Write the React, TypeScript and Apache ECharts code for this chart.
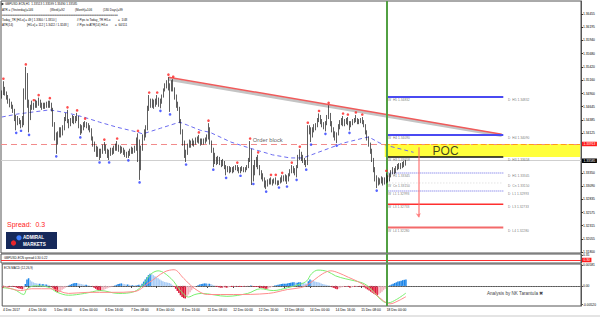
import React, { useEffect, useRef } from "react";
import * as echarts from "echarts";

const FONT = "'Liberation Sans', Arial, sans-serif";

// ---------- time axis ----------
const TIME_LABELS = [
  "4 Dec 2017", "4 Dec 16:00", "5 Dec 08:00", "6 Dec 00:00", "6 Dec 16:00", "7 Dec 08:00",
  "8 Dec 00:00", "8 Dec 16:00", "11 Dec 08:00", "12 Dec 00:00", "12 Dec 16:00", "13 Dec 08:00",
  "14 Dec 00:00", "14 Dec 16:00", "15 Dec 08:00", "18 Dec 00:00",
];
const BARS_PER_LABEL = 16;
const SLOT_COUNT = 362;
const NOW_INDEX = 240;

// ---------- prices (pips above 1.3000, H1 bars) ----------
const PRICE_BASE = 1.3;
const FIRST_OPEN_PIPS = 484;
const CLOSE_PIPS = [
  488, 500, 492, 484, 478, 470, 466, 458, 446, 432, 440, 436, 428, 430, 480, 525,
  470, 440, 462, 470, 466, 472, 470, 474, 468, 464, 468, 466, 470, 468, 470, 460,
  430, 410, 392, 410, 418, 412, 420, 440, 448, 436, 430, 438, 444, 436, 440, 444,
  428, 418, 422, 430, 432, 428, 426, 420, 404, 392, 384, 372, 380, 368, 376, 384,
  388, 378, 370, 374, 380, 376, 384, 388, 382, 386, 378, 382, 376, 372, 368, 372,
  376, 380, 378, 382, 390, 398, 350, 380, 404, 412, 420, 460, 476, 468, 474, 466,
  472, 480, 470, 474, 484, 496, 504, 512, 500, 506, 512, 500, 484, 470, 462, 440,
  418, 396, 376, 372, 386, 394, 390, 396, 392, 398, 402, 398, 394, 398, 396, 400,
  404, 420, 396, 380, 368, 362, 358, 362, 356, 352, 356, 348, 340, 344, 340, 342,
  340, 344, 346, 342, 338, 342, 344, 340, 342, 346, 360, 380, 340, 334, 350, 358,
  346, 336, 330, 322, 314, 312, 318, 320, 318, 316, 320, 318, 314, 316, 322, 320,
  324, 326, 320, 330, 338, 344, 340, 336, 346, 364, 372, 366, 360, 356, 352, 416,
  420, 410, 418, 424, 428, 438, 446, 436, 430, 426, 432, 444, 450, 432, 420, 412,
  404, 410, 424, 434, 436, 430, 434, 438, 432, 428, 432, 436, 438, 440, 434, 436,
  438, 436, 428, 416, 404, 392, 380, 362, 344, 326, 316, 320, 318, 322, 316, 320,
  326, 322, 330, 336, 340, 338, 344, 348, 350, 346, 352, 351.3, 358.5,
];
const HIGH_PIPS = [
  496, 514, 503, 494, 487, 480, 474, 468, 460, 448, 446, 442, 438, 446, 500, 542,
  530, 478, 468, 476, 472, 478, 476, 482, 478, 472, 472, 472, 474, 476, 476, 472,
  462, 434, 414, 416, 424, 424, 428, 444, 452, 458, 440, 442, 448, 446, 446, 452,
  446, 430, 428, 434, 436, 434, 432, 428, 422, 406, 396, 388, 386, 382, 382, 390,
  395, 390, 382, 380, 384, 384, 388, 392, 397, 390, 388, 386, 384, 380, 376, 378,
  382, 386, 384, 388, 404, 412, 400, 388, 410, 420, 428, 466, 487, 480, 480, 478,
  480, 487, 482, 480, 488, 500, 510, 516, 522, 510, 516, 518, 502, 488, 474, 464,
  440, 420, 398, 380, 392, 400, 398, 402, 398, 404, 406, 409, 402, 402, 402, 404,
  410, 432, 424, 398, 384, 374, 366, 368, 366, 360, 362, 358, 350, 348, 348, 346,
  346, 348, 350, 350, 346, 346, 348, 346, 346, 350, 364, 397, 382, 350, 360, 366,
  370, 350, 340, 334, 326, 320, 322, 324, 326, 322, 324, 326, 320, 320, 326, 330,
  330, 332, 330, 334, 342, 350, 348, 344, 350, 370, 381, 376, 370, 364, 360, 428,
  428, 424, 424, 430, 432, 442, 451, 448, 440, 434, 436, 448, 467, 452, 436, 424,
  416, 414, 430, 438, 442, 446, 440, 442, 444, 436, 436, 440, 442, 448, 442, 440,
  442, 444, 438, 430, 418, 406, 394, 382, 364, 346, 330, 326, 324, 328, 326, 326,
  334, 330, 334, 340, 346, 344, 348, 352, 354, 354, 356, 358, 359.9,
];
const LOW_PIPS = [
  480, 487, 486, 478, 470, 463, 460, 452, 436, 418, 428, 430, 422, 424, 428, 478,
  462, 414, 438, 458, 458, 462, 462, 466, 462, 458, 460, 460, 462, 462, 462, 455,
  425, 398, 372, 390, 404, 404, 408, 418, 436, 432, 422, 426, 432, 430, 432, 436,
  422, 409, 412, 418, 424, 422, 418, 414, 398, 386, 376, 366, 366, 360, 364, 372,
  378, 372, 364, 360, 368, 370, 372, 378, 378, 376, 372, 374, 370, 366, 364, 364,
  368, 372, 372, 374, 378, 356, 321, 340, 378, 398, 404, 418, 456, 462, 462, 460,
  464, 468, 464, 461, 470, 482, 494, 500, 496, 454, 494, 494, 478, 462, 456, 432,
  410, 388, 364, 356, 370, 384, 384, 388, 386, 390, 394, 392, 388, 390, 390, 392,
  396, 400, 390, 374, 346, 352, 350, 352, 350, 346, 348, 342, 330, 336, 334, 336,
  334, 336, 340, 338, 334, 334, 338, 336, 336, 340, 344, 356, 311, 318, 330, 346,
  342, 330, 322, 318, 306, 303, 308, 312, 312, 310, 314, 312, 310, 311, 314, 316,
  318, 318, 313, 318, 328, 334, 334, 330, 326, 344, 360, 358, 354, 350, 346, 350,
  410, 395, 404, 414, 418, 424, 434, 430, 424, 420, 416, 428, 440, 426, 414, 404,
  398, 393, 408, 420, 428, 426, 426, 430, 428, 418, 424, 428, 432, 434, 430, 430,
  432, 430, 424, 410, 398, 386, 372, 356, 336, 318, 305, 310, 312, 314, 310, 312,
  314, 316, 318, 326, 332, 332, 334, 340, 342, 342, 344, 346, 349,
];
const FRACTAL_UP = [1, 15, 20, 23, 30, 41, 47, 52, 64, 72, 85, 92, 97, 104, 107, 123, 129, 147, 155, 160, 168, 171, 175, 181, 186, 191, 198, 204, 213, 216, 221, 225, 240];
const FRACTAL_DOWN = [9, 12, 17, 34, 49, 61, 67, 79, 86, 99, 105, 115, 132, 140, 149, 157, 165, 173, 178, 184, 190, 193, 202, 209, 217, 234];

// moving average (bar index, pips)
const MA_POINTS = [
  [0, 444], [10, 450], [20, 454], [30, 458], [41, 452], [51, 444], [61, 434], [72, 424], [84, 415],
  [88, 411], [99, 422], [111, 434], [116, 428], [124, 418], [130, 414], [143, 395], [155, 383],
  [169, 370], [180, 364], [188, 364], [201, 379], [213, 393], [226, 403], [229, 405], [236, 393],
  [242, 387], [257, 375],
];
const TREND_POINTS = [[104, 522], [312, 410.3]];
const TREND_SHADOW_POINTS = [[104, 518], [312, 408]];

const PRICE_TICKS = [1.36455, 1.36195, 1.3594, 1.3568, 1.3542, 1.3516, 1.349, 1.34645, 1.34385, 1.34125, 1.3335, 1.3309, 1.32835, 1.32575, 1.32315, 1.32055, 1.318];
const Y_MIN = 1.317806;
const Y_MAX = 1.367093;
const BID_PRICE = 1.33585;
const ORDER_BLOCK_PRICE = 1.33913;
const POC_TOP = 1.33913;
const POC_BOTTOM = 1.33658;
const POC_START = 239;

const PIVOT_NAMES = ["H5", "H4", "H3", "H1", "Cn", "L1", "L3", "L4"];
const PIVOT_VALUES = [1.34832, 1.3409, 1.33658, 1.33345, 1.3315, 1.32993, 1.32733, 1.3228];
const PIVOT_START = 240;
const PIVOT_END = 313;
const PIVOT_D_LABEL = 316;

const ARROW_INDEX = 260;
const ARROW_FROM = 1.3385;
const ARROW_TO = 1.3248;

// ---------- MACD (units of 0.0001) ----------
const HIST_E4 = [
  -6, -5, -4, -3, -3, -2, -2, -3, -4, -6, -7, -8, -9, -8,
  5, 18, 21, 16, 12, 10, 8, 7, 6, 6, 5, 5, 4, 4, 3, 2,
  -2, -5, -10, -15, -18, -17, -14, -11, -8, -5, -2, 1,
  3, 5, 7, 8, 8, 7, 6,
  5, 4, 3, 3, 2, 1, 0,
  -2, -5, -8, -11, -13, -14, -13, -11,
  -9, -7, -5, -4, -2, -1,
  1, 3, 5, 6, 7, 6, 5, 4, 4, 3, 2,
  2, 1, 1, 2, 3,
  2, 6, 12, 18, 24, 30, 34, 33,
  30, 27, 24, 21, 18, 15, 13, 11, 10, 9, 8, 6,
  2, -3, -8, -14, -20, -26, -31, -34, -35,
  -30, -24, -18, -12, -7, -3,
  0, 2, 4, 5, 6, 7, 7, 6, 6, 5, 3, 1,
  -2, -3, -4, -5, -5, -4, -4, -5, -4, -3,
  -3, -3, -2, -2, -2, -3, -3, -2, -2, -1, -1, 0, 1, -1, -3,
  -3, -3, -4, -5, -6, -7, -8, -8, -7, -5, -3, -1, 1,
  2, 3, 4, 5, 6, 6, 6, 7, 8, 9, 10, 10, 9, 9, 10, 10,
  9, 8, 7, 6,
  13, 18,
  16, 14, 12, 11, 10, 9, 7, 5, 4, 3, 2, 1,
  -2, -4, -6, -8, -9,
  -7, -5, -4, -3, -3, -2,
  -3, -5,
  -4, -3, -3, -2, -2, -2, -2, -2,
  -4, -7, -10, -13, -16, -19, -22, -25, -27,
  -24, -20, -16, -12, -8, -4,
  -1, 2, 4, 6, 8, 10, 12, 13, 14, 16, 17, 18,
];
const MACD_MAIN_E4 = [
  [0, -5], [7, -10], [13, -24], [15, -8], [20, 0], [28, -3], [34, -18], [41, -26], [51, -21],
  [61, -13], [72, -21], [82, -16], [88, 5], [92, 31], [97, 42], [105, 21], [111, -13], [116, -31],
  [120, -24], [124, -21], [140, -29], [153, -21], [161, -8], [169, -13], [178, -5], [186, 5],
  [190, 14], [193, 34], [197, 44], [203, 40], [208, 28], [214, 20], [220, 14], [226, 6], [230, -8],
  [234, -28], [238, -44], [241, -47], [246, -38], [252, -20],
];
const MACD_SIGNAL_E4 = [
  [0, 0], [11, -13], [18, -8], [30, -8], [41, -21], [53, -18], [68, -18], [82, -16], [91, 8],
  [101, 39], [107, 45], [113, 21], [120, -8], [128, -24], [144, -24], [166, -21], [178, -10],
  [186, -5], [190, 2], [195, 18], [200, 34], [205, 42], [210, 36], [216, 24], [222, 12], [228, -4],
  [233, -22], [238, -42], [242, -50], [247, -42], [252, -30],
];
const MACD_TICKS = [0.00581, 0, -0.0052];
const MACD_MIN = -0.0056;
const MACD_MAX = 0.0061;

const SPREAD_NOW = 0.3;
const SPREAD_TICKS = [0.35];

const HEADER_LINES = [
  { text: "GBPUSD-ECN,H1  1.33513 1.33599 1.33490 1.33585", x: 5, y: 4 },
  { text: "ATR = (Yesterday)=146", x: 2, y: 10 },
  { text: "(Week)=92", x: 50, y: 10 },
  { text: "(Month)=106", x: 75, y: 10 },
  { text: "(180 Days)=99", x: 103, y: 10 },
  { text: "==================================================================", x: 2, y: 15 },
  { text: "Today_TR [H/Lo] = 49 [ 1.3360 / 1.3310 ]", x: 2, y: 20 },
  { text: "// Pips to Today_TR H/Lo", x: 77, y: 20 },
  { text: "=  1/48", x: 118, y: 20 },
  { text: "ATR(14)", x: 2, y: 25 },
  { text: "[H/Lo] = 112 [ 1.3422 / 1.3248 ]", x: 27, y: 25 },
  { text: "// Pips to ATR(14) H/Lo", x: 77, y: 25 },
  { text: "=  64/111", x: 115, y: 25 },
];

const toPrice = (p: number) => +(PRICE_BASE + p / 10000).toFixed(5);
const toMacd = (v: number) => v / 10000;

const PIVOT_STYLE: Record<string, any> = {
  H5: { color: "#4a4af2", width: 2, type: "solid" },
  H4: { color: "#4a4af2", width: 2, type: "solid" },
  H3: { color: "#111111", width: 1.5, type: "solid" },
  H1: { color: "#6767e6", width: 1, type: [1, 1] },
  Cn: { color: "#bdbdbd", width: 0.6, type: [1, 2] },
  L1: { color: "#6767e6", width: 1, type: [1, 1] },
  L3: { color: "#ff3030", width: 1.5, type: "solid" },
  L4: { color: "#f36a6a", width: 2, type: "solid" },
};

const nowLine = () => ({
  xAxis: NOW_INDEX,
  lineStyle: { color: "#52a043", width: 2, type: "solid" },
  label: { show: false },
});

const tag = (text: string, bg: string) => ({
  show: true,
  position: "end",
  distance: 1,
  formatter: text,
  backgroundColor: bg,
  color: "#fff",
  fontSize: 3.3,
  fontFamily: FONT,
  padding: [1, 1.5, 0.5, 1.5],
});

function buildOption() {
  const cats = Array.from({ length: SLOT_COUNT }, (_, i) =>
    i % BARS_PER_LABEL === 0 && i / BARS_PER_LABEL < TIME_LABELS.length ? TIME_LABELS[i / BARS_PER_LABEL] : ""
  );
  const candles = CLOSE_PIPS.map((c, i) => {
    const o = i === 0 ? FIRST_OPEN_PIPS : CLOSE_PIPS[i - 1];
    const h = Math.max(HIGH_PIPS[i], o, c);
    const l = Math.min(LOW_PIPS[i], o, c);
    return [toPrice(o), toPrice(c), toPrice(l), toPrice(h)];
  });
  const histData = HIST_E4.map((v, i) => {
    const prev = i === 0 ? v : HIST_E4[i - 1];
    let color;
    if (v >= 0) color = v >= prev ? "#1e86e8" : "#a9cdf6";
    else color = v <= prev ? "#dc1838" : "#f4b3be";
    return { value: [i, toMacd(v)], itemStyle: { color } };
  });

  const axisLabelBase = { fontSize: 3.3, color: "#000", fontFamily: FONT, margin: 2 };

  const pivotSeries = PIVOT_NAMES.map((name, k) => ({
    type: "line",
    xAxisIndex: 0,
    yAxisIndex: 0,
    symbol: "none",
    silent: true,
    z: 4,
    lineStyle: PIVOT_STYLE[name],
    data: [[PIVOT_START, PIVOT_VALUES[k]], [PIVOT_END, PIVOT_VALUES[k]]],
  }));
  const pivotLabelItems = (prefix: string, idx: number) =>
    PIVOT_NAMES.map((name, k) => ({
      value: [idx, PIVOT_VALUES[k]],
      label: { formatter: `${prefix}  ${name} ${PIVOT_VALUES[k].toFixed(5)}` },
    }));
  const textScatter = (data: any[], label: any) => ({
    type: "scatter",
    xAxisIndex: 0,
    yAxisIndex: 0,
    symbolSize: 0,
    silent: true,
    z: 6,
    data,
    label: { show: true, fontFamily: FONT, ...label },
  });

  return {
    animation: false,
    backgroundColor: "#ffffff",
    grid: [
      { left: 1, top: 1, width: 580, height: 252, show: true, borderColor: "#555", borderWidth: 1, backgroundColor: "#fff" },
      { left: 1, top: 254, width: 580, height: 9, show: true, borderColor: "#555", borderWidth: 1, backgroundColor: "#fff" },
      { left: 1, top: 264, width: 580, height: 42, show: true, borderColor: "#555", borderWidth: 1, backgroundColor: "#fff" },
    ],
    xAxis: [0, 1, 2].map((g) => ({
      type: "category",
      gridIndex: g,
      data: cats,
      show: g === 2,
      boundaryGap: true,
      axisLine: { show: true, lineStyle: { color: "#555", width: 1 } },
      axisTick: {
        show: true,
        alignWithLabel: true,
        length: 2,
        interval: (i: number, v: string) => v !== "",
        lineStyle: { color: "#333" },
      },
      axisLabel: {
        ...axisLabelBase,
        align: "left",
        interval: (i: number, v: string) => v !== "",
      },
      splitLine: { show: false },
    })),
    yAxis: [
      {
        type: "value",
        gridIndex: 0,
        position: "right",
        min: Y_MIN,
        max: Y_MAX,
        axisLine: { show: true, lineStyle: { color: "#555" } },
        axisTick: { show: true, length: 2, customValues: PRICE_TICKS, lineStyle: { color: "#333" } },
        axisLabel: { ...axisLabelBase, customValues: PRICE_TICKS, formatter: (v: number) => v.toFixed(5) },
        splitLine: { show: false },
      },
      {
        type: "value",
        gridIndex: 1,
        position: "right",
        min: 0.27,
        max: 0.36,
        axisLine: { show: true, lineStyle: { color: "#555" } },
        axisTick: { show: true, length: 2, customValues: SPREAD_TICKS },
        axisLabel: { ...axisLabelBase, customValues: SPREAD_TICKS, formatter: (v: number) => v.toFixed(2) },
        splitLine: { show: false },
      },
      {
        type: "value",
        gridIndex: 2,
        position: "right",
        min: MACD_MIN,
        max: MACD_MAX,
        axisLine: { show: true, lineStyle: { color: "#555" } },
        axisTick: { show: true, length: 2, customValues: MACD_TICKS },
        axisLabel: {
          ...axisLabelBase,
          customValues: MACD_TICKS,
          formatter: (v: number) => (v === 0 ? "0.00" : v.toFixed(5)),
        },
        splitLine: { show: false },
      },
    ],
    series: [
      // POC band
      {
        type: "line",
        xAxisIndex: 0,
        yAxisIndex: 0,
        data: [],
        silent: true,
        z: 1,
        markArea: {
          silent: true,
          itemStyle: { color: "#ffff3c", opacity: 1 },
          data: [[{ coord: [POC_START, POC_TOP] }, { coord: [SLOT_COUNT - 1, POC_BOTTOM] }]],
        },
      },
      // horizontal price lines
      {
        type: "line",
        xAxisIndex: 0,
        yAxisIndex: 0,
        data: [],
        silent: true,
        z: 2,
        markLine: {
          silent: true,
          symbol: "none",
          precision: 5,
          data: [
            {
              yAxis: BID_PRICE,
              lineStyle: { color: "#cfcfcf", type: "solid", width: 1 },
              label: tag(BID_PRICE.toFixed(5), "#000000"),
            },
            {
              yAxis: ORDER_BLOCK_PRICE,
              lineStyle: { color: "#f28b8b", type: [6, 4], width: 1.2 },
              label: tag(ORDER_BLOCK_PRICE.toFixed(5), "#ff1a1a"),
            },
            [
              { coord: [POC_START, POC_TOP], lineStyle: { color: "#ff9a1a", type: [5, 3], width: 1.2 }, label: { show: false } },
              { coord: [SLOT_COUNT - 1, POC_TOP] },
            ],
          ],
        },
      },
      {
        type: "line",
        xAxisIndex: 0,
        yAxisIndex: 0,
        data: MA_POINTS.map(([i, v]) => [i, toPrice(v)]),
        symbol: "none",
        silent: true,
        z: 3,
        lineStyle: { color: "#6c6cf0", width: 1, type: [4, 3] },
      },
      {
        type: "line",
        xAxisIndex: 0,
        yAxisIndex: 0,
        data: TREND_SHADOW_POINTS.map(([i, v]) => [i, toPrice(v)]),
        symbol: "none",
        silent: true,
        z: 3,
        lineStyle: { color: "#c4c4c4", width: 3 },
      },
      {
        type: "line",
        xAxisIndex: 0,
        yAxisIndex: 0,
        data: TREND_POINTS.map(([i, v]) => [i, toPrice(v)]),
        symbol: "none",
        silent: true,
        z: 4,
        lineStyle: { color: "#f05a5a", width: 1.5 },
      },
      ...pivotSeries,
      {
        type: "candlestick",
        xAxisIndex: 0,
        yAxisIndex: 0,
        data: candles,
        barWidth: 1.2,
        z: 5,
        itemStyle: {
          color: "#b4b4b4",
          color0: "#1a1a1a",
          borderColor: "#1a1a1a",
          borderColor0: "#1a1a1a",
          borderWidth: 0.7,
        },
      },
      {
        type: "line",
        xAxisIndex: 0,
        yAxisIndex: 0,
        data: [],
        silent: true,
        z: 7,
        markLine: {
          silent: true,
          symbol: "none",
          precision: 5,
          data: [
            nowLine(),
            [
              { coord: [ARROW_INDEX, ARROW_FROM], symbol: "none", lineStyle: { color: "#ff6b6b", width: 1.5, opacity: 0.75, type: "solid" }, label: { show: false } },
              { coord: [ARROW_INDEX, ARROW_TO], symbol: "arrow", symbolSize: 4 },
            ],
          ],
        },
      },
      {
        type: "scatter",
        xAxisIndex: 0,
        yAxisIndex: 0,
        data: FRACTAL_UP.map((i) => [i, toPrice(HIGH_PIPS[i])]),
        symbolSize: 2.6,
        symbolOffset: [0, -2.5],
        itemStyle: { color: "#ff2020" },
        silent: true,
        z: 6,
      },
      {
        type: "scatter",
        xAxisIndex: 0,
        yAxisIndex: 0,
        data: FRACTAL_DOWN.map((i) => [i, toPrice(LOW_PIPS[i])]),
        symbolSize: 2.6,
        symbolOffset: [0, 2.5],
        itemStyle: { color: "#2a3cff" },
        silent: true,
        z: 6,
      },
      textScatter(pivotLabelItems("W", PIVOT_START + 1), { position: "right", distance: 0, offset: [0, 3], fontSize: 3.3, color: "#555" }),
      textScatter(pivotLabelItems("D", PIVOT_D_LABEL), { position: "right", distance: 0, offset: [0, 3], fontSize: 3.3, color: "#555" }),
      textScatter([{ value: [166, 1.3399], label: { formatter: "Order block" } }], { position: "inside", fontSize: 5.8, color: "#333" }),
      textScatter([{ value: [277, 1.33785], label: { formatter: "POC" } }], { position: "inside", fontSize: 12, color: "#111" }),
      // spread panel
      {
        type: "line",
        xAxisIndex: 1,
        yAxisIndex: 1,
        data: [],
        silent: true,
        markLine: {
          silent: true,
          symbol: "none",
          precision: 5,
          data: [
            { yAxis: SPREAD_NOW, lineStyle: { color: "#ff3030", width: 1, type: "solid" }, label: tag(SPREAD_NOW.toFixed(2), "#ff1a1a") },
            nowLine(),
          ],
        },
      },
      // MACD panel
      {
        type: "bar",
        xAxisIndex: 2,
        yAxisIndex: 2,
        data: histData,
        barCategoryGap: "5%",
        silent: true,
        z: 2,
      },
      {
        type: "line",
        xAxisIndex: 2,
        yAxisIndex: 2,
        data: [],
        silent: true,
        z: 4,
        markLine: {
          silent: true,
          symbol: "none",
          precision: 6,
          data: [
            { yAxis: 0, lineStyle: { color: "#9a9a9a", width: 0.8, type: [1, 1.5] }, label: { show: false } },
            nowLine(),
          ],
        },
      },
      {
        type: "line",
        xAxisIndex: 2,
        yAxisIndex: 2,
        data: MACD_MAIN_E4.map(([i, v]) => [i, toMacd(v)]),
        smooth: 0.35,
        symbol: "none",
        silent: true,
        z: 3,
        lineStyle: { color: "#79ef6f", width: 1 },
      },
      {
        type: "line",
        xAxisIndex: 2,
        yAxisIndex: 2,
        data: MACD_SIGNAL_E4.map(([i, v]) => [i, toMacd(v)]),
        smooth: 0.35,
        symbol: "none",
        silent: true,
        z: 3,
        lineStyle: { color: "#ff8c8c", width: 1 },
      },
    ],
    graphic: [
      { type: "polygon", z: 100, shape: { points: [[1.5, 2.5], [4, 4], [1.5, 5.5]] }, style: { fill: "#222" } },
      ...HEADER_LINES.map((l) => ({
        type: "text",
        z: 100,
        x: l.x,
        y: l.y,
        style: { text: l.text, fontSize: 3, fontFamily: FONT, fill: "#111", verticalAlign: "middle" },
      })),
      {
        type: "text",
        z: 100,
        x: 7,
        y: 224,
        style: { text: "Spread:  0.3", fontSize: 7, fontFamily: FONT, fill: "#ff2424", verticalAlign: "middle" },
      },
      { type: "rect", z: 100, shape: { x: 6, y: 232, width: 51, height: 17 }, style: { fill: "#16295a" } },
      { type: "circle", z: 101, shape: { cx: 19, cy: 237.8, r: 2.6 }, style: { fill: "#3d7cff" } },
      { type: "circle", z: 101, shape: { cx: 13.5, cy: 243, r: 2.6 }, style: { fill: "#e8262b" } },
      {
        type: "text",
        z: 101,
        x: 23,
        y: 237.5,
        style: { text: "ADMIRAL", fontSize: 4.6, fontWeight: "bold", fontFamily: FONT, fill: "#fff", verticalAlign: "middle" },
      },
      {
        type: "text",
        z: 101,
        x: 23,
        y: 244,
        style: { text: "MARKETS", fontSize: 4.6, fontWeight: "bold", fontFamily: FONT, fill: "#fff", verticalAlign: "middle" },
      },
      {
        type: "text",
        z: 100,
        x: 4,
        y: 257.5,
        style: { text: "GBPUSD-ECN spread 0.30 0.22", fontSize: 3, fontFamily: FONT, fill: "#111", verticalAlign: "middle" },
      },
      {
        type: "text",
        z: 100,
        x: 4,
        y: 268,
        style: { text: "ECN MACD (12,26,9)", fontSize: 3, fontFamily: FONT, fill: "#111", verticalAlign: "middle" },
      },
      {
        type: "text",
        z: 100,
        x: 487,
        y: 293,
        style: { text: "Analysis by NK Tarantula ✖", fontSize: 4.6, fontFamily: FONT, fill: "#444", verticalAlign: "middle" },
      },
      { type: "rect", z: 100, shape: { x: 0, y: 315, width: 600, height: 2 }, style: { fill: "#e4e4e4" } },
    ],
  };
}

export default function App() {
  const ref = useRef<HTMLDivElement>(null);
  useEffect(() => {
    if (!ref.current) return;
    const chart = echarts.init(ref.current, undefined, { renderer: "svg" });
    chart.setOption(buildOption() as any);
    return () => chart.dispose();
  }, []);
  return (
    <div
      ref={ref}
      style={{ position: "absolute", left: 0, top: 0, width: 600, height: 317, background: "#fff" }}
    />
  );
}
